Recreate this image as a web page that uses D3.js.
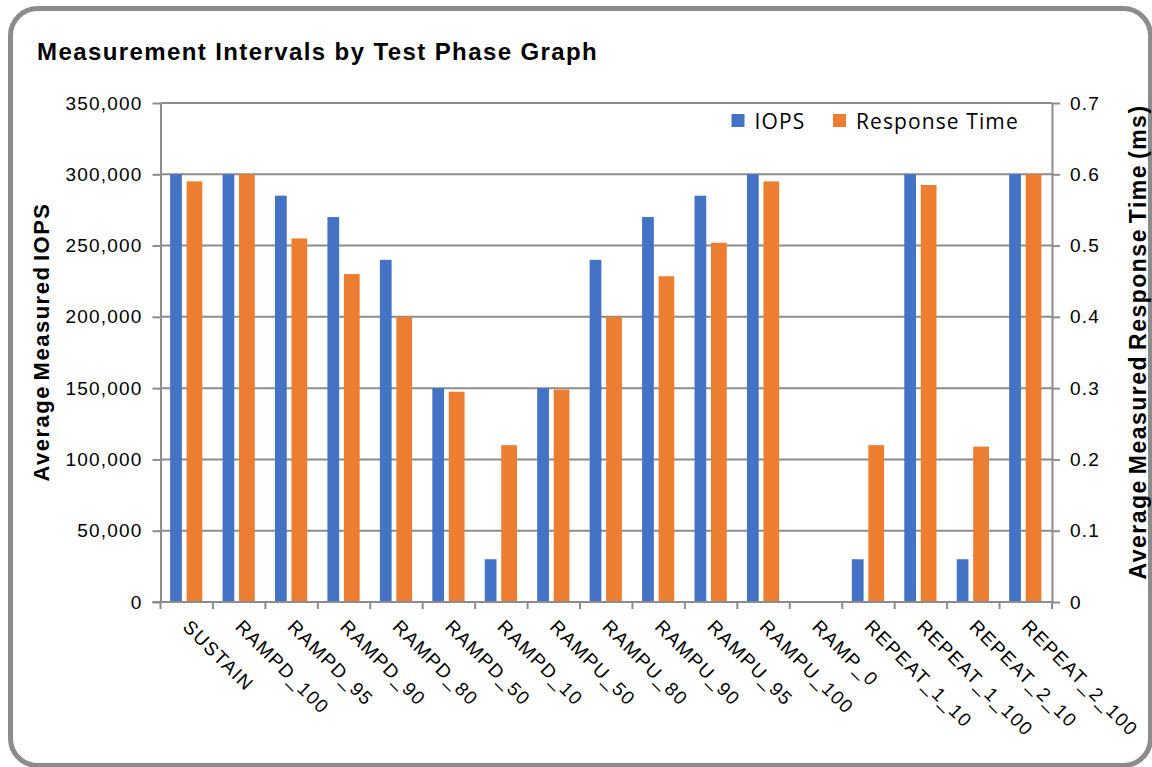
<!DOCTYPE html>
<html>
<head>
<meta charset="utf-8">
<script src="https://cdn.jsdelivr.net/npm/d3@7"></script>
<style>
  body { margin: 0; background: #fff; }
  text { font-family: "Liberation Sans", Arial, sans-serif; fill: #000; }
</style>
</head>
<body>
<div id="chart"></div>
<script>
// test phases on the x axis
const phases = ['SUSTAIN', 'RAMPD_100', 'RAMPD_95', 'RAMPD_90', 'RAMPD_80', 'RAMPD_50', 'RAMPD_10',
  'RAMPU_50', 'RAMPU_80', 'RAMPU_90', 'RAMPU_95', 'RAMPU_100', 'RAMP_0',
  'REPEAT_1_10', 'REPEAT_1_100', 'REPEAT_2_10', 'REPEAT_2_100'];

// average measured IOPS per phase
const iops = [300000, 300000, 285000, 270000, 240000, 150000, 30000,
  150000, 240000, 270000, 285000, 300000, 0,
  30000, 300000, 30000, 300000];

// average measured response time (ms) per phase
const respTime = [0.59, 0.60, 0.51, 0.46, 0.40, 0.295, 0.22,
  0.298, 0.40, 0.457, 0.504, 0.59, 0,
  0.22, 0.585, 0.218, 0.60];

// tick labels
const iopsTicks = [0, 50000, 100000, 150000, 200000, 250000, 300000, 350000];
const rtTicks = [0, 0.1, 0.2, 0.3, 0.4, 0.5, 0.6, 0.7];

const seriesNames = ['IOPS', 'Response Time'];
const colors = { 'IOPS': '#4472C4', 'Response Time': '#ED7D31' };

const W = 1152, H = 767;
const plotLeft = 160.5, plotRight = 1052, plotTop = 103, plotBottom = 602;
const gridColor = '#8c8c8c';

const svg = d3.select('#chart').append('svg')
  .attr('width', W)
  .attr('height', H);

// outer rounded frame
svg.append('rect')
  .attr('x', 10.5).attr('y', 8.5)
  .attr('width', 1140).attr('height', 757)
  .attr('rx', 27).attr('ry', 27)
  .attr('fill', '#fff')
  .attr('stroke', gridColor)
  .attr('stroke-width', 5);

// title
svg.append('text')
  .attr('x', 37).attr('y', 60)
  .style('font-size', '24px')
  .style('font-weight', 'bold')
  .style('letter-spacing', '1.4px')
  .text('Measurement Intervals by Test Phase Graph');

// scales
const x0 = d3.scaleBand().domain(phases).range([plotLeft, plotRight]).padding(0);
const x1 = d3.scaleBand().domain(seriesNames).range([0, x0.bandwidth()])
  .paddingInner(0.1).paddingOuter(0.55);
const yL = d3.scaleLinear().domain([0, 350000]).range([plotBottom, plotTop]);
const yR = d3.scaleLinear().domain([0, 0.7]).range([plotBottom, plotTop]);

// gridlines
svg.append('g')
  .selectAll('line')
  .data(iopsTicks)
  .enter().append('line')
  .attr('x1', plotLeft).attr('x2', plotRight)
  .attr('y1', d => yL(d)).attr('y2', d => yL(d))
  .attr('stroke', gridColor)
  .attr('stroke-width', 2);

// bars
const groups = svg.append('g')
  .selectAll('g')
  .data(phases.map((p, i) => ({ phase: p, iops: iops[i], rt: respTime[i] })))
  .enter().append('g')
  .attr('transform', d => `translate(${x0(d.phase)},0)`);

groups.append('rect')
  .attr('x', x1('IOPS'))
  .attr('y', d => yL(d.iops))
  .attr('width', x1.bandwidth() - 4)
  .attr('height', d => plotBottom - yL(d.iops))
  .attr('fill', colors['IOPS']);

groups.append('rect')
  .attr('x', x1('Response Time') - 1)
  .attr('y', d => yR(d.rt))
  .attr('width', x1.bandwidth())
  .attr('height', d => plotBottom - yR(d.rt))
  .attr('fill', colors['Response Time']);

// left axis
const axisL = svg.append('g')
  .attr('transform', `translate(${plotLeft},0)`)
  .call(d3.axisLeft(yL).tickValues(iopsTicks).tickSize(8).tickSizeOuter(0)
    .tickPadding(10).tickFormat(d3.format(',')));

// right axis
const axisR = svg.append('g')
  .attr('transform', `translate(${plotRight},0)`)
  .call(d3.axisRight(yR).tickValues(rtTicks).tickSize(8).tickSizeOuter(0)
    .tickPadding(10).tickFormat(d => d === 0 ? '0' : d3.format('.1f')(d)));

[axisL, axisR].forEach(a => {
  a.select('.domain').attr('stroke', gridColor).attr('stroke-width', 2);
  a.selectAll('.tick line').attr('stroke', gridColor).attr('stroke-width', 2);
  a.selectAll('.tick text')
    .style('font-size', '19px')
    .style('letter-spacing', '1.2px')
    .style('font-family', '"Liberation Sans", Arial, sans-serif');
});

// bottom axis line and boundary ticks
svg.append('line')
  .attr('x1', plotLeft - 8).attr('x2', plotRight)
  .attr('y1', plotBottom).attr('y2', plotBottom)
  .attr('stroke', gridColor).attr('stroke-width', 2);

svg.append('g')
  .selectAll('line')
  .data(phases.concat(['end']))
  .enter().append('line')
  .attr('x1', (d, i) => i < phases.length ? x0(d) : plotRight)
  .attr('x2', (d, i) => i < phases.length ? x0(d) : plotRight)
  .attr('y1', plotBottom).attr('y2', plotBottom + 7)
  .attr('stroke', gridColor).attr('stroke-width', 2);

// category labels, rotated
svg.append('g')
  .selectAll('text')
  .data(phases)
  .enter().append('text')
  .attr('transform', d => `translate(${x0(d) + x0.bandwidth() / 2 - 5},628) rotate(45)`)
  .style('font-size', '19px')
  .style('letter-spacing', '1.4px')
  .text(d => d);

// axis titles
svg.append('text')
  .attr('transform', 'translate(49,342) rotate(-90)')
  .attr('text-anchor', 'middle')
  .style('font-size', '22px')
  .style('font-weight', 'bold')
  .style('letter-spacing', '1.5px')
  .style('word-spacing', '-3px')
  .text('Average Measured IOPS');

svg.append('text')
  .attr('transform', 'translate(1146,342) rotate(-90)')
  .attr('text-anchor', 'middle')
  .style('font-size', '23px')
  .style('font-weight', 'bold')
  .style('letter-spacing', '1.5px')
  .style('word-spacing', '-3px')
  .text('Average Measured Response Time (ms)');

// legend
const legendX = [731.5, 833];
const legend = svg.append('g')
  .selectAll('g')
  .data(seriesNames)
  .enter().append('g')
  .attr('transform', (d, i) => `translate(${legendX[i]},114)`);

legend.append('rect')
  .attr('width', 13).attr('height', 13)
  .attr('fill', d => colors[d]);

legend.append('text')
  .attr('x', 23).attr('y', 15)
  .style('font-family', '"Open Sans", "Noto Sans", sans-serif')
  .style('font-size', '21px')
  .style('letter-spacing', '1.1px')
  .text(d => d);
</script>
</body>
</html>
